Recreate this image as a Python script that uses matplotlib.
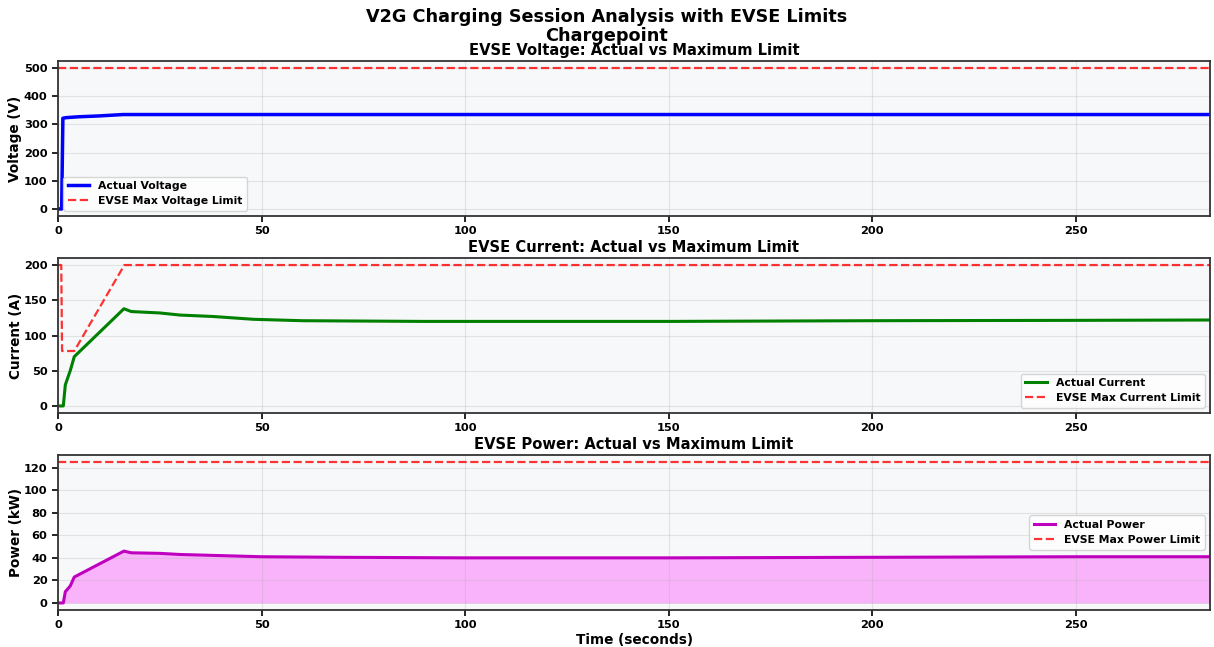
import matplotlib
matplotlib.use("Agg")
import matplotlib.pyplot as plt
from matplotlib.ticker import MultipleLocator

plt.rcParams['font.family'] = 'DejaVu Sans'
plt.rcParams['font.weight'] = 'bold'
plt.rcParams['axes.labelweight'] = 'bold'
plt.rcParams['axes.titleweight'] = 'bold'

# Voltage
volt_t = [0, 0.9, 1.2, 2, 5, 10, 16, 30, 60, 100, 150, 200, 250, 283]
volt_v = [0, 0, 322, 324, 327, 330, 335, 335, 335, 335, 335, 335, 335, 335]
volt_limit = 500

# Current
cur_t = [0, 1.3, 1.8, 3, 4, 16.2, 18, 25, 30, 38, 48, 60, 90, 150, 200, 250, 283]
cur_v = [0, 0, 30, 50, 70, 138, 134, 132, 129, 127, 123, 121, 120, 120, 121, 121.5, 122]
cur_lim_t = [0, 0.8, 1.0, 4.0, 16.3, 283]
cur_lim_v = [200, 200, 78, 78, 200, 200]

# Power
pow_t = [0, 1.3, 1.8, 3, 4, 16.2, 18, 25, 30, 40, 50, 70, 100, 150, 200, 250, 283]
pow_v = [0, 0, 10, 15, 23, 46, 44.5, 44, 43, 42, 41, 40.5, 40, 40, 40.5, 41, 41]
pow_limit = 125

fig = plt.figure(figsize=(12.14, 6.47), dpi=100)
W, H = 1214, 647
L, R = 58, 1210
tops = [61, 258, 455]
h = 155
axes = []
for t in tops:
    ax = fig.add_axes([L / W, 1 - (t + h) / H, (R - L) / W, h / H])
    axes.append(ax)

fig.text(0.5, 1 - 17 / H, "V2G Charging Session Analysis with EVSE Limits",
         ha='center', va='center', fontsize=12.7, fontweight='bold')
fig.text(0.5, 1 - 36 / H, "Chargepoint",
         ha='center', va='center', fontsize=12.7, fontweight='bold')

face = '#f7f8fa'
t_end = 283
title_fs = 10.6
label_fs = 9.8
tick_fs = 8.2
leg_fs = 7.8

ax = axes[0]
ax.plot(volt_t, volt_v, color='blue', lw=2.5, label='Actual Voltage')
ax.plot([0, t_end], [volt_limit, volt_limit], color='red', ls='--', lw=1.6, alpha=0.8,
        label='EVSE Max Voltage Limit')
ax.set_ylabel('Voltage (V)', fontsize=label_fs, labelpad=1)
ax.set_title('EVSE Voltage: Actual vs Maximum Limit', fontsize=title_fs, pad=4)
ax.legend(loc='lower left', prop={'weight': 'bold', 'size': leg_fs})

ax = axes[1]
ax.plot(cur_t, cur_v, color='green', lw=2.2, label='Actual Current')
ax.plot(cur_lim_t, cur_lim_v, color='red', ls='--', lw=1.6, alpha=0.8,
        label='EVSE Max Current Limit')
ax.set_ylabel('Current (A)', fontsize=label_fs, labelpad=1)
ax.set_title('EVSE Current: Actual vs Maximum Limit', fontsize=title_fs, pad=4)
ax.legend(loc='lower right', prop={'weight': 'bold', 'size': leg_fs})

ax = axes[2]
ax.plot(pow_t, pow_v, color='m', lw=2.2, label='Actual Power')
ax.fill_between(pow_t, pow_v, 0, color='magenta', alpha=0.28, lw=0)
ax.plot([0, t_end], [pow_limit, pow_limit], color='red', ls='--', lw=1.6, alpha=0.8,
        label='EVSE Max Power Limit')
ax.set_ylabel('Power (kW)', fontsize=label_fs, labelpad=1)
ax.set_xlabel('Time (seconds)', fontsize=label_fs, labelpad=2)
ax.set_title('EVSE Power: Actual vs Maximum Limit', fontsize=title_fs, pad=4)
ax.yaxis.set_major_locator(MultipleLocator(20))
ax.legend(loc='center right', prop={'weight': 'bold', 'size': leg_fs})

for ax in axes:
    ax.set_facecolor(face)
    ax.grid(True, alpha=0.3)
    ax.set_xlim(0, t_end)
    for s in ax.spines.values():
        s.set_linewidth(1.3)
        s.set_color('#333333')
    ax.tick_params(labelsize=tick_fs, length=4, width=1.2)
    for lab in ax.get_xticklabels() + ax.get_yticklabels():
        lab.set_fontweight('bold')

fig.savefig('out.png', dpi=100)
